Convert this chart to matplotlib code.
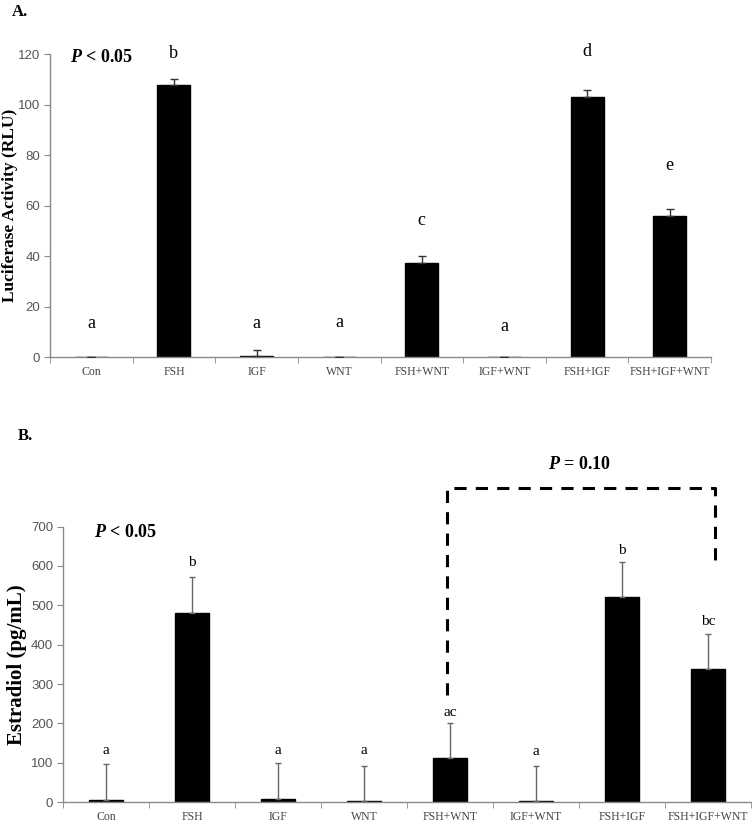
import numpy as np
import matplotlib.pyplot as plt

plt.rcParams["mathtext.fontset"] = "custom"
plt.rcParams["mathtext.rm"] = "Liberation Serif"
plt.rcParams["mathtext.it"] = "Liberation Serif:italic"
plt.rcParams["mathtext.bf"] = "Liberation Serif:bold"
plt.rcParams["mathtext.bfit"] = "Liberation Serif:italic:bold"

# -------- Data --------
groups = ["Con", "FSH", "IGF", "WNT", "FSH+WNT", "IGF+WNT", "FSH+IGF", "FSH+IGF+WNT"]

luc_mean = [0.0, 107.7, 0.5, 0.0, 37.2, 0.0, 103.2, 56.1]
luc_err = [0.0, 2.4, 2.4, 0.0, 2.8, 0.0, 2.5, 2.5]
luc_letters = ["a", "b", "a", "a", "c", "a", "d", "e"]
luc_letter_y = [13.5, 120.5, 13.5, 13.7, 54, 12, 121, 76]

e2_mean = [6, 481, 8, 4, 112, 2, 521, 339]
e2_err = [90, 90, 91, 88, 89, 90, 89, 88]
e2_letters = ["a", "b", "a", "a", "ac", "a", "b", "bc"]
e2_letter_y = [131, 608, 131, 131, 229, 130, 638, 459]

serif = "Liberation Serif"
sans = "Liberation Sans"
grey = "#8a8a8a"
x = np.arange(len(groups))


def style_axis(ax, ymax, ystep):
    ax.set_xlim(-0.5, len(groups) - 0.5)
    ax.set_ylim(0, ymax)
    ax.set_yticks(np.arange(0, ymax + 1, ystep))
    for s in ["top", "right"]:
        ax.spines[s].set_visible(False)
    for s in ["left", "bottom"]:
        ax.spines[s].set_color(grey)
        ax.spines[s].set_linewidth(1)
    ax.set_xticks(x)
    ax.set_xticklabels(groups, fontfamily=serif, fontsize=8.5, color="#444444")
    ax.set_xticks(np.arange(-0.5, len(groups)), minor=True)
    ax.tick_params(axis="x", which="major", length=0, pad=6)
    ax.tick_params(axis="x", which="minor", length=4, color=grey, direction="out")
    ax.tick_params(axis="y", length=4, color=grey, direction="out", labelsize=9.5,
                   labelcolor="#555555", pad=3)
    for lab in ax.get_yticklabels():
        lab.set_fontfamily(sans)


fig = plt.figure(figsize=(7.52, 8.23), dpi=100)

# -------- Panel A: luciferase --------
axA = fig.add_axes([0.0665, 0.566, 0.879, 0.368])
axA.bar(x, luc_mean, width=0.4, color="black", edgecolor="black", linewidth=1, zorder=2)
axA.errorbar(x, luc_mean, yerr=[np.zeros(len(x)), luc_err], fmt="none",
             ecolor="#333333", elinewidth=1, capsize=3, capthick=1, zorder=3)
style_axis(axA, 120, 20)
axA.set_ylabel("Luciferase Activity (RLU)", fontfamily=serif, fontweight="bold",
               fontsize=12.5)
axA.yaxis.set_label_coords(-0.049, 0.5)
for xi, lt, ly in zip(x, luc_letters, luc_letter_y):
    axA.text(xi, ly, lt, ha="center", va="center", fontfamily=serif, fontsize=13)
axA.text(0.03, 0.99, r"$\mathbfit{P}$ < 0.05", transform=axA.transAxes, ha="left",
         va="center", fontfamily=serif, fontweight="bold", fontsize=13)
fig.text(0.016, 0.985, "A.", fontfamily=serif, fontweight="bold", fontsize=12,
         va="center")

# -------- Panel B: estradiol --------
axB = fig.add_axes([0.0838, 0.0252, 0.915, 0.335])
axB.bar(x, e2_mean, width=0.4, color="black", edgecolor="black", linewidth=1, zorder=2)
axB.errorbar(x, e2_mean, yerr=[np.zeros(len(x)), e2_err], fmt="none",
             ecolor="#666666", elinewidth=1, capsize=2.5, capthick=1, zorder=3)
style_axis(axB, 700, 100)
axB.set_ylabel("Estradiol (pg/mL)", fontfamily=serif, fontweight="bold", fontsize=15)
axB.yaxis.set_label_coords(-0.052, 0.5)
for xi, lt, ly in zip(x, e2_letters, e2_letter_y):
    axB.text(xi, ly, lt, ha="center", va="center", fontfamily=serif, fontsize=11)
axB.text(0.045, 0.98, r"$\mathbfit{P}$ < 0.05", transform=axB.transAxes, ha="left",
         va="center", fontfamily=serif, fontweight="bold", fontsize=13)

# dashed bracket for P = 0.10
axB.plot([3.97, 3.97, 7.08, 7.08], [272, 798, 798, 607], color="black",
         linestyle=(0, (4, 3)), linewidth=2.2, clip_on=False, zorder=4)
axB.text(5.5, 857, r"$\mathbfit{P}$ = 0.10", ha="center", va="center",
         fontfamily=serif, fontweight="bold", fontsize=13, clip_on=False)
fig.text(0.024, 0.47, "B.", fontfamily=serif, fontweight="bold", fontsize=12,
         va="center")

plt.savefig("out.png", dpi=100)
